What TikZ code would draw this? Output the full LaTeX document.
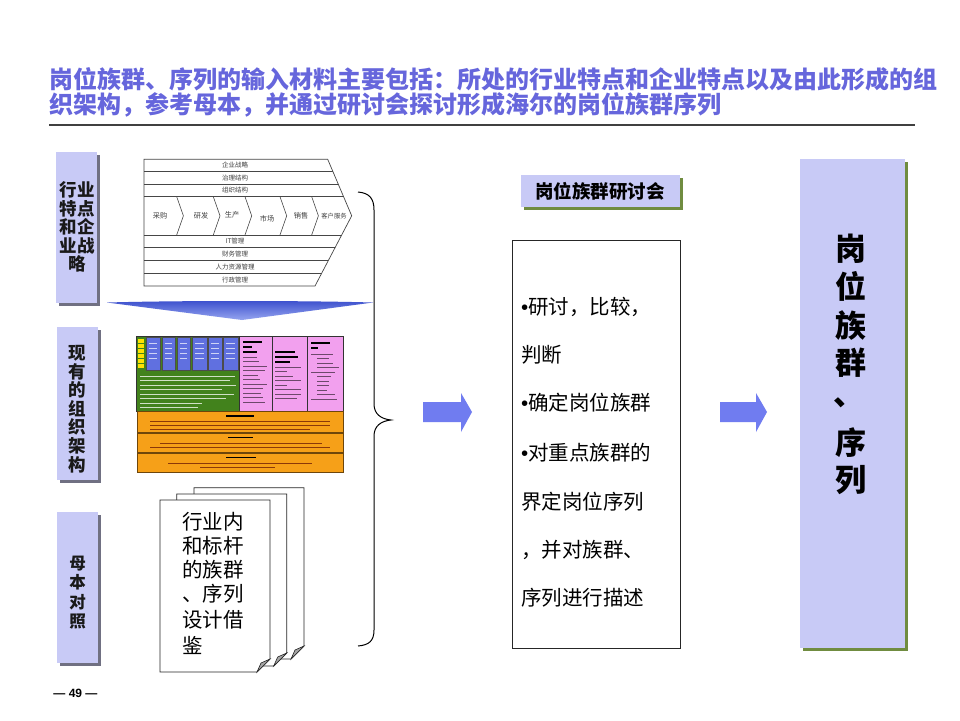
\documentclass[tikz,border=0pt]{standalone}
\usepackage{fontspec}
\setmainfont{Noto Sans CJK SC}
\newfontfamily\latinb{Liberation Sans}
\usetikzlibrary{shadows,calc}
\definecolor{titleblue}{RGB}{102,102,220}
\definecolor{lav}{RGB}{200,202,246}
\definecolor{shgray}{RGB}{112,112,130}
\definecolor{shgreen}{RGB}{112,140,64}
\definecolor{arrowblue}{RGB}{112,124,240}
\definecolor{orgreen}{RGB}{66,130,28}
\definecolor{orblue}{RGB}{96,112,224}
\definecolor{orpink}{RGB}{242,160,238}
\definecolor{ororange}{RGB}{246,160,24}
\definecolor{orbrown}{RGB}{110,70,10}
\definecolor{vcline}{RGB}{70,70,70}
\newcommand{\bul}{{\latinb •}}
\tikzset{
  lbox/.style={fill=lav, inner sep=0, minimum width=41pt,
    general shadow={fill=shgray, shadow xshift=3pt, shadow yshift=-3pt}},
  lboxtext/.style={font=\bfseries\fontsize{17.5}{18.6}\selectfont, text=black!90, inner sep=0},
  gbox/.style={fill=lav, inner sep=0,
    general shadow={fill=shgreen, shadow xshift=3pt, shadow yshift=-3pt}},
  vctext/.style={font=\fontsize{6.5}{7}\selectfont, text=black!75, inner sep=0},
  chtext/.style={font=\fontsize{7.2}{8}\selectfont, text=black!75, inner sep=0},
  doc/.style={draw=black!85, fill=white, line width=0.8pt},
  bodytext/.style={font=\fontsize{20.5}{22}\selectfont, anchor=west, inner sep=0},
  bigchar/.style={font=\bfseries\fontsize{31}{31}\selectfont, inner sep=0},
  blockarrow/.style={fill=arrowblue},
  greek/.style={line width=0.7pt},
}
\begin{document}
\begin{tikzpicture}[x=1pt,y=-1pt]
\useasboundingbox (0,0) rectangle (960,720);
\fill[white] (0,0) rectangle (960,720);

% ---------- title ----------
\node[anchor=west, text=titleblue, font=\bfseries\fontsize{24}{28}\selectfont, inner sep=0] (title1) at (49,79) {岗位族群、序列的输入材料主要包括：所处的行业特点和企业特点以及由此形成的组};
\node[anchor=west, text=titleblue, font=\bfseries\fontsize{24}{28}\selectfont, inner sep=0] (title2) at (49,105) {织架构，参考母本，并通过研讨会探讨形成海尔的岗位族群序列};
\coordinate (rule1) at (49,125);
\coordinate (rule2) at (915,125);
\draw[line width=1.1pt, black!75] (rule1) -- (rule2);

% ---------- left label boxes ----------
\node[lbox, minimum height=151pt] (lb1) at (76.5,227.5) {};
\node[lboxtext, align=center] (lb1t) at (77,227) {行业\\特点\\和企\\业战\\略};
\node[lbox, minimum height=153pt] (lb2) at (77.5,403.5) {};
\node[lboxtext, align=center] (lb2t) at (77.5,409) {现\\有\\的\\组\\织\\架\\构};
\node[lbox, minimum height=151pt] (lb3) at (77.5,587.5) {};
\node[lboxtext, align=center, font=\bfseries\fontsize{16.5}{19.5}\selectfont] (lb3t) at (77.5,592.5) {母\\本\\对\\照};

% ---------- value chain ----------
\coordinate (vA) at (144,159.3);
\coordinate (vB) at (327.7,159.3);
\coordinate (vC) at (351.7,215.8);
\coordinate (vD) at (315,286);
\coordinate (vE) at (144,286);
\begin{scope}
\clip (vA) -- (vB) -- (vC) -- (vD) -- (vE) -- cycle;
\foreach \yy in {171.7,184.3,196.7,235,247.3,260,273.3}
  \draw[vcline, line width=0.6pt] (140,\yy) -- (360,\yy);
\end{scope}
\draw[vcline, line width=0.7pt] (vA) -- (vB) -- (vC) -- (vD) -- (vE) -- cycle;
\foreach \xx in {176.7,213.3,245,280,311.7}
  \draw[vcline, line width=0.6pt] (\xx,196.7) -- (\xx+6.7,215.8) -- (\xx,235);
\node[vctext] (r1) at (235,165.5) {企业战略};
\node[vctext] (r2) at (235,178) {治理结构};
\node[vctext] (r3) at (235,190.5) {组织结构};
\node[vctext] (r4) at (235,241) {IT管理};
\node[vctext] (r5) at (235,253.7) {财务管理};
\node[vctext] (r6) at (235,266.7) {人力资源管理};
\node[vctext] (r7) at (235,279.7) {行政管理};
\node[chtext] (c1) at (160,216) {采购};
\node[chtext] (c2) at (201,216) {研发};
\node[chtext] (c3) at (232,215) {生产};
\node[chtext] (c4) at (267,219) {市场};
\node[chtext] (c5) at (301,216) {销售};
\node[chtext, font=\fontsize{6.3}{7}\selectfont] (c6) at (334,216) {客户服务};

% ---------- down arrow ----------
\coordinate (dA) at (107,302.5);
\coordinate (dB) at (373,302.5);
\coordinate (dC) at (242,320);
\shade[top color={rgb,255:red,60;green,80;blue,205}, bottom color={rgb,255:red,150;green,165;blue,240}]
  (dA) .. controls (180,300.5) and (300,300.5) .. (dB) -- (dC) -- cycle;

% ---------- org chart ----------
\filldraw[fill=orgreen, draw=black!80, line width=0.6pt] (136,336) rectangle (239,411);
\foreach \yy in {339,344,349,354,359,364}
  \fill[yellow!85!orange] (138,\yy) rectangle (143.5,\yy+3.5);
\foreach \a/\b in {146/160,162/175,177/190,192/207,208/222,223/238} {
  \filldraw[fill=orblue, draw=black!70, line width=0.4pt] (\a,337) rectangle (\b,370);
  \foreach \yy in {343,348,353,358}
    \draw[white!70!orblue, line width=0.7pt] (\a+3,\yy) -- (\b-3,\yy);
}
\foreach \yy/\len in {376/95,380.5/90,385/96,389.5/82,394/94,398.5/86,403/62,407.2/58}
  \draw[white!75!orgreen, greek] (140,\yy) -- (140+\len,\yy);
\foreach \a/\b in {239/272,272/307.3,307.3/343.3}
  \filldraw[fill=orpink, draw=black!80, line width=0.6pt] (\a,336) rectangle (\b,411);
% pink col 1
\draw[black, line width=1.6pt] (243,342) -- (262,342) (243,347) -- (252,347) (243,352) -- (257,352);
\foreach \yy/\len in {357/14,361.5/16,366/24,370.5/22,375/15,379.5/17,384/24,388.5/20,393/18,397.5/20,402/22}
  \draw[black!55!orpink, greek] (243,\yy) -- (243+\len,\yy);
% pink col 2
\draw[black, line width=1.6pt] (275,352) -- (295,352) (275,357) -- (298,357) (275,362) -- (290,362);
\foreach \yy/\len in {367/26,371.5/12,376/18,380.5/26,385/12,389.5/26,394/26,398.5/22}
  \draw[black!55!orpink, greek] (275,\yy) -- (275+\len,\yy);
% pink col 3
\draw[black, line width=1.6pt] (311,343) -- (330,343) (311,348) -- (318,348);
\foreach \yy/\dx/\len in {354/0/22,358.5/6/12,363/6/16,367.5/6/22,372/0/24,376.5/6/14,381/6/12,385.5/6/12,390/6/10,394.5/6/18,399/0/26}
  \draw[black!55!orpink, greek] (311+\dx,\yy) -- (311+\dx+\len,\yy);
% orange rows
\foreach \t/\b in {411.5/432,433/452.5,453/472}
  \filldraw[fill=ororange, draw=orbrown, line width=0.8pt] (137.7,\t) rectangle (343.3,\b);
\draw[black, line width=1.6pt] (226,416) -- (254,416);
\foreach \yy/\a/\b in {421/150/330,425.5/150/330,429.5/150/310}
  \draw[orbrown!80!red, line width=0.6pt] (\a,\yy) -- (\b,\yy);
\draw[black, line width=1.6pt] (228,437.5) -- (253,437.5);
\foreach \yy/\a/\b in {443/160/322,447.5/150/330}
  \draw[orbrown!80!red, line width=0.6pt] (\a,\yy) -- (\b,\yy);
\draw[black, line width=1.6pt] (226,457.5) -- (256,457.5);
\foreach \yy/\a/\b in {463/168/312,467.5/200/275}
  \draw[orbrown!80!red, line width=0.6pt] (\a,\yy) -- (\b,\yy);

% ---------- documents ----------
\foreach \l/\t/\r/\b in {194/487.7/304/659,176.7/494/286.7/666,160/500/270/672} {
  \filldraw[doc] (\l,\t) -- (\r,\t) -- (\r,\b-13) -- (\r-13,\b) -- (\l,\b) -- cycle;
  \filldraw[draw=black!85, fill=black!35, line width=0.6pt] (\r,\b-13) -- (\r-13,\b) -- (\r-9,\b-9) -- cycle;
}
\node[bodytext] (d1) at (182,521.7) {行业内};
\node[bodytext] (d2) at (182,546) {和标杆};
\node[bodytext] (d3) at (182,569.5) {的族群};
\node[bodytext] (d4) at (182,594) {、序列};
\node[bodytext] (d5) at (182,619.5) {设计借};
\node[bodytext] (d6) at (182,645) {鉴};

% ---------- brace ----------
\coordinate (brT) at (358,192);
\coordinate (brM) at (391,420);
\coordinate (brB) at (358,646);
\draw[line width=1pt] (brT) .. controls (369,193) and (374,198) .. (374,210) -- (374,404)
  .. controls (374,414) and (381,419) .. (brM)
  .. controls (381,421) and (374,426) .. (374,436) -- (374,630)
  .. controls (374,641) and (369,645) .. (brB);

% ---------- block arrows ----------
\coordinate (a1) at (423,402);
\fill[blockarrow] (a1) -- (461,402) -- (461,393) -- (472,412) -- (461,432) -- (461,422) -- (423,422) -- cycle;
\coordinate (a2) at (720,402);
\fill[blockarrow] (a2) -- (756,402) -- (756,393) -- (767,412) -- (756,432) -- (756,422) -- (720,422) -- cycle;

% ---------- seminar label ----------
\node[gbox, minimum width=159pt, minimum height=32pt, font=\bfseries\fontsize{18.5}{20}\selectfont] (sem) at (600,191) {岗位族群研讨会};

% ---------- middle box ----------
\node[draw=black!85, line width=1pt, fill=white, minimum width=168pt, minimum height=408pt, inner sep=0] (mid) at (596,444) {};
\node[bodytext] (m1) at (521,307) {\bul 研讨，比较，};
\node[bodytext] (m2) at (521,355) {判断};
\node[bodytext] (m3) at (521,403) {\bul 确定岗位族群};
\node[bodytext] (m4) at (521,453) {\bul 对重点族群的};
\node[bodytext] (m5) at (521,502) {界定岗位序列};
\node[bodytext] (m6) at (521,550) {，并对族群、};
\node[bodytext] (m7) at (521,598) {序列进行描述};

% ---------- result box ----------
\node[gbox, minimum width=105pt, minimum height=489pt] (res) at (852.5,403.5) {};
\node[bigchar] (k1) at (851,249) {岗};
\node[bigchar] (k2) at (851,286.5) {位};
\node[bigchar] (k3) at (851,325.5) {族};
\node[bigchar] (k4) at (851,362.5) {群};
\node[bigchar] (k5) at (849,403) {、};
\node[bigchar] (k6) at (851,443) {序};
\node[bigchar] (k7) at (851,480) {列};

% ---------- footer ----------
\node[font=\latinb\bfseries\fontsize{12}{14}\selectfont, inner sep=0] (page) at (75.5,693) {— 49 —};
\end{tikzpicture}
\end{document}
